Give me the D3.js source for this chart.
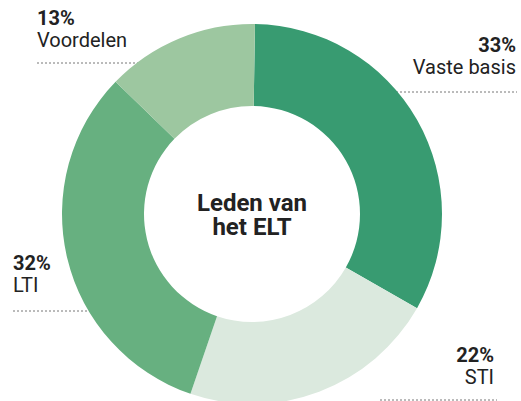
<!DOCTYPE html>
<html>
<head>
<meta charset="utf-8">
<script src="https://cdn.jsdelivr.net/npm/d3@7"></script>
<style>
  body { margin: 0; background: #fff; }
  text { font-family: Roboto, "Noto Sans", sans-serif; fill: #222; }
</style>
</head>
<body>
<div id="viz"></div>
<script>
var width = 521, height = 401;

// data
var categories = ["Vaste basis", "STI", "LTI", "Voordelen"];
var values = [33, 22, 32, 13];
var colors = ["#389b71", "#dbe9de", "#67b080", "#9dc7a0"];

var cx = 252, cy = 214, outer = 190, inner = 108;
var start = 0.9 * Math.PI / 180;

// label layout: text x, percent baseline, anchor, leader y and extent
var labelPos = {
  "Vaste basis": { x: 516, y: 52, anchor: "end", ly: 92, lx0: 380, lx1: 517 },
  "STI": { x: 494, y: 362, anchor: "end", ly: 400, lx0: 380, lx1: 497 },
  "LTI": { x: 13, y: 270, anchor: "start", ly: 311, lx0: 13, lx1: 120 },
  "Voordelen": { x: 37, y: 25, anchor: "start", ly: 63, lx0: 37, lx1: 160 }
};

var svg = d3.select("#viz").append("svg")
    .attr("width", width)
    .attr("height", height);

// dotted leader lines (behind the donut)
svg.selectAll(".leader")
  .data(categories)
  .enter().append("line")
    .attr("class", "leader")
    .attr("x1", function(d) { return labelPos[d].lx0; })
    .attr("x2", function(d) { return labelPos[d].lx1; })
    .attr("y1", function(d) { return labelPos[d].ly; })
    .attr("y2", function(d) { return labelPos[d].ly; })
    .attr("stroke", "#777")
    .attr("stroke-width", 1)
    .attr("stroke-dasharray", "2,2");

var pie = d3.pie()
    .sort(null)
    .startAngle(start)
    .endAngle(start + 2 * Math.PI)
    .value(function(d, i) { return values[i]; });

var arc = d3.arc()
    .innerRadius(inner)
    .outerRadius(outer);

var g = svg.append("g")
    .attr("transform", "translate(" + cx + "," + cy + ")");

g.selectAll("path")
  .data(pie(categories))
  .enter().append("path")
    .attr("d", arc)
    .attr("fill", function(d, i) { return colors[i]; });

// center label
var center = g.append("text")
    .attr("text-anchor", "middle")
    .style("font-size", "24px")
    .style("font-weight", "bold");
center.append("tspan").attr("x", 0).attr("y", -3).text("Leden van");
center.append("tspan").attr("x", 0).attr("y", 21).text("het ELT");

// outside labels
var lab = svg.selectAll(".lab")
  .data(categories)
  .enter().append("text")
    .attr("class", "lab")
    .attr("text-anchor", function(d) { return labelPos[d].anchor; })
    .style("font-size", "20px");

lab.append("tspan")
    .attr("x", function(d) { return labelPos[d].x; })
    .attr("y", function(d) { return labelPos[d].y; })
    .style("font-weight", "bold")
    .text(function(d, i) { return values[i] + "%"; });

lab.append("tspan")
    .attr("x", function(d) { return labelPos[d].x; })
    .attr("y", function(d) { return labelPos[d].y + 22; })
    .text(function(d) { return d; });
</script>
</body>
</html>
